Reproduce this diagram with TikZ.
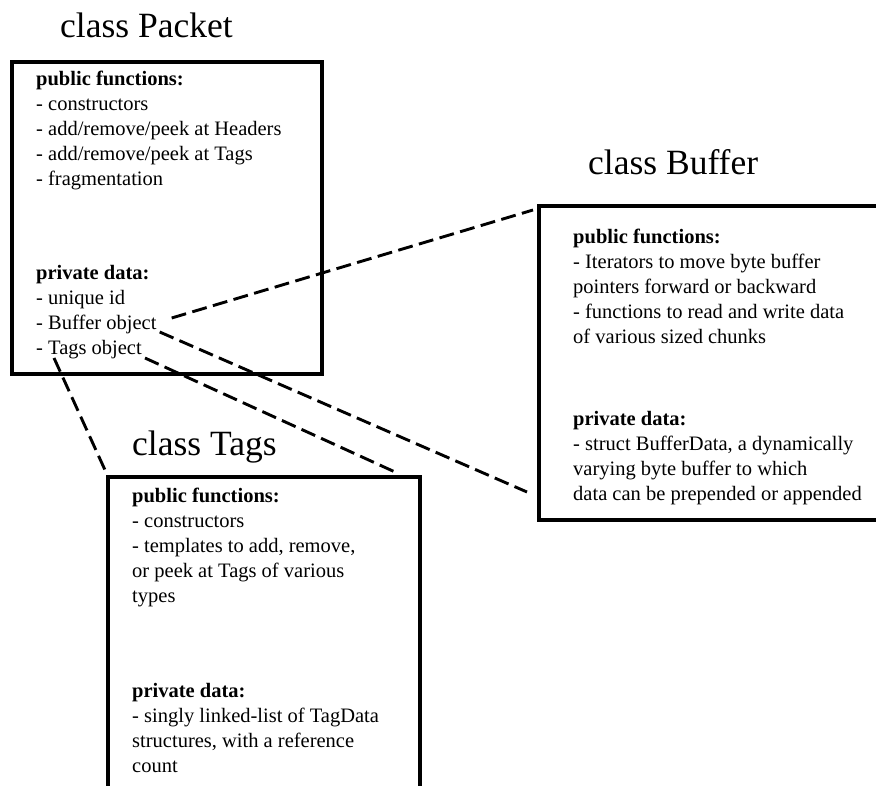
\documentclass[tikz,border=0pt]{standalone}
\usepackage{fontspec}
\setmainfont{Liberation Serif}
\begin{document}
\begin{tikzpicture}[x=1pt,y=-1pt,
  classbox/.style={draw, line width=4.5pt, rectangle, inner sep=0pt, outer sep=0pt, anchor=north west},
  classtitle/.style={anchor=base west, inner sep=0pt, font=\fontsize{35.5}{40}\selectfont},
  member/.style={anchor=base west, inner sep=0pt, font=\fontsize{20.5}{25}\selectfont},
  heading/.style={member, font=\fontsize{20.5}{25}\selectfont\bfseries},
  link/.style={line width=2.9pt, dash pattern=on 15pt off 6.5pt}]
\useasboundingbox (0,0) rectangle (876,786);
\clip (0,0) rectangle (876,786);

% titles
\node[classtitle] (tPacket) at (60,38) {class Packet};
\node[classtitle] (tBuffer) at (588,175) {class Buffer};
\node[classtitle] (tTags)   at (132,455) {class Tags};

% boxes
\node[classbox, minimum width=310pt, minimum height=312pt] (packet) at (12,62) {};
\node[classbox, minimum width=360pt, minimum height=314pt] (buffer) at (539,206) {};
\node[classbox, minimum width=312pt, minimum height=340pt] (tags)   at (108,477) {};

% class Packet members
\node[heading] (pk0) at (36,86)  {public functions:};
\node[member]  (pk1) at (36,111) {- constructors};
\node[member]  (pk2) at (36,136) {- add/remove/peek at Headers};
\node[member]  (pk3) at (36,161) {- add/remove/peek at Tags};
\node[member]  (pk4) at (36,186) {- fragmentation};
\node[heading] (pk5) at (36,280) {private data:};
\node[member]  (pk6) at (36,305) {- unique id};
\node[member]  (pkbuf) at (36,330) {- Buffer object};
\node[member]  (pktags) at (36,355) {- Tags object};

% class Buffer members
\node[heading] (bf0) at (573,244) {public functions:};
\node[member]  (bf1) at (573,269) {- Iterators to move byte buffer};
\node[member]  (bf2) at (573,294) {pointers forward or backward};
\node[member]  (bf3) at (573,319) {- functions to read and write data};
\node[member]  (bf4) at (573,344) {of various sized chunks};
\node[heading] (bf5) at (573,425) {private data:};
\node[member]  (bf6) at (573,450) {- struct BufferData, a dynamically};
\node[member]  (bf7) at (573,475) {varying byte buffer to which};
\node[member]  (bf8) at (573,500) {data can be prepended or appended};

% class Tags members
\node[heading] (tg0) at (132,502) {public functions:};
\node[member]  (tg1) at (132,527) {- constructors};
\node[member]  (tg2) at (132,552) {- templates to add, remove,};
\node[member]  (tg3) at (132,577) {or peek at Tags of various};
\node[member]  (tg4) at (132,602) {types};
\node[heading] (tg5) at (132,697) {private data:};
\node[member]  (tg6) at (132,722) {- singly linked-list of TagData};
\node[member]  (tg7) at (132,747) {structures, with a reference};
\node[member]  (tg8) at (132,772) {count};

% free ends of the links
\coordinate (bufA) at (533,210);
\coordinate (bufB) at (527,492);
\coordinate (tagA) at (395,472);
\coordinate (tagB) at (105,470);

% links from the members to their classes
\draw[link] ([shift={(15,-12)}]pkbuf.base east) -- (bufA);
\draw[link] ([shift={(3,2)}]pkbuf.base east) -- (bufB);
\draw[link] ([shift={(3,3)}]pktags.base east) -- (tagA);
\draw[link] ([shift={(18,3)}]pktags.base west) -- (tagB);
\end{tikzpicture}
\end{document}
